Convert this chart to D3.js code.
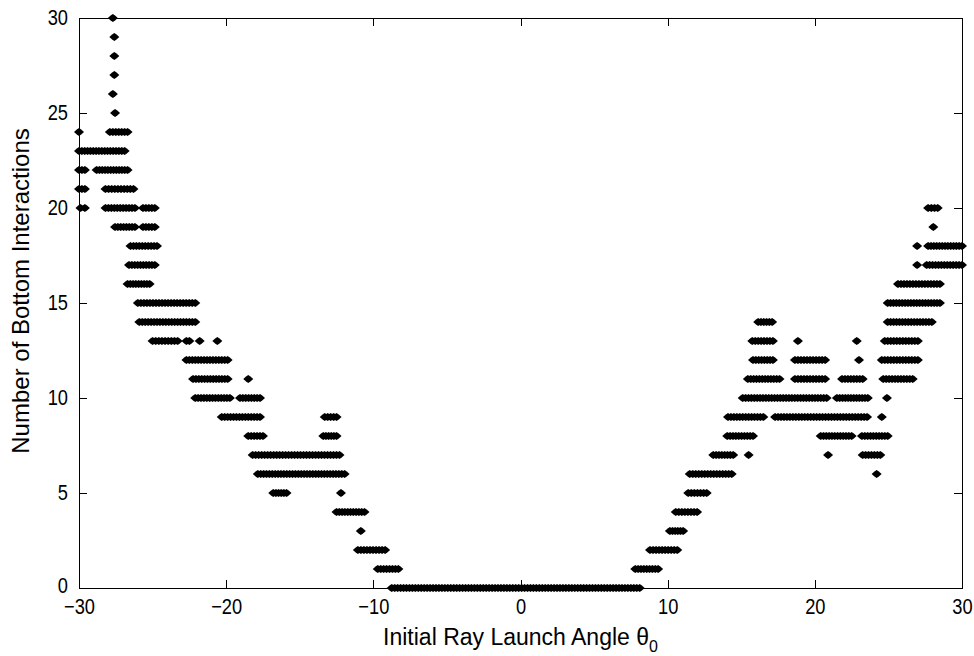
<!DOCTYPE html>
<html>
<head>
<meta charset="utf-8">
<script src="https://cdn.jsdelivr.net/npm/d3@7"></script>
<style>
  body { margin: 0; background: #fff; }
  svg { display: block; }
  text { font-family: "Liberation Sans", Arial, sans-serif; fill: #000; }
</style>
</head>
<body>
<div id="chart"></div>
<script>
// DATA
// launch angle ticks and interaction count ticks
const xTicks = [-30, -20, -10, 0, 10, 20, 30];
const yTicks = [0, 5, 10, 15, 20, 25, 30];

// runs of launch angles that share the same count: [count, fromAngle, toAngle]
// negative launch angles
const leftRuns = [
  [30, -27.7, -27.7], [29, -27.6, -27.6], [28, -27.6, -27.6], [27, -27.6, -27.6],
  [26, -27.7, -27.7], [25, -27.55, -27.55],
  [24, -30, -30], [24, -27.9, -26.7],
  [23, -30, -26.9],
  [22, -30, -29.6], [22, -28.8, -26.7],
  [21, -30, -29.6], [21, -28.2, -26.3],
  [20, -29.9, -29.6], [20, -28.2, -26.2], [20, -25.65, -24.85],
  [19, -27.55, -26.2], [19, -25.65, -24.85],
  [18, -26.5, -24.7],
  [17, -26.6, -24.85],
  [16, -26.7, -25.2],
  [15, -26.0, -22.1],
  [14, -25.9, -22.1],
  [13, -25.0, -23.3], [13, -22.7, -22.5], [13, -21.8, -21.8], [13, -20.6, -20.6],
  [12, -22.7, -19.9],
  [11, -22.25, -19.9], [11, -18.5, -18.5],
  [10, -22.1, -19.75], [10, -19.06, -17.7],
  [9, -20.3, -17.7], [9, -13.3, -12.5],
  [8, -18.5, -17.5], [8, -13.4, -12.5],
  [7, -18.2, -12.3],
  [6, -17.85, -11.95],
  [5, -16.8, -15.9], [5, -12.2, -12.2],
  [4, -12.5, -10.6],
  [3, -10.85, -10.85],
  [2, -11.05, -9.2],
  [1, -9.7, -8.3]
];
// angles that never touch the bottom
const centerRuns = [
  [0, -8.75, 8.1]
];
// positive launch angles
const rightRuns = [
  [1, 7.8, 9.35],
  [2, 8.8, 10.65],
  [3, 10.15, 11.05],
  [4, 10.55, 12.0],
  [5, 11.4, 12.65],
  [6, 11.5, 14.35], [6, 24.2, 24.2],
  [7, 13.1, 14.45], [7, 15.5, 15.5], [7, 20.9, 20.9], [7, 23.25, 24.45],
  [8, 14.05, 15.8], [8, 20.4, 22.5], [8, 23.2, 24.95],
  [9, 14.1, 16.5], [9, 17.3, 23.55], [9, 24.55, 24.55],
  [10, 15.1, 20.8], [10, 21.5, 23.6], [10, 24.9, 24.9],
  [11, 15.45, 17.6], [11, 18.65, 20.7], [11, 21.85, 23.25], [11, 24.65, 26.65],
  [12, 15.8, 17.15], [12, 18.65, 20.7], [12, 23.0, 23.0], [12, 24.55, 27.0],
  [13, 15.75, 17.15], [13, 18.85, 18.85], [13, 22.85, 22.85], [13, 24.75, 27.0],
  [14, 16.15, 17.1], [14, 24.95, 27.95],
  [15, 24.95, 28.5],
  [16, 25.65, 28.5],
  [17, 26.95, 26.95], [17, 27.6, 30],
  [18, 26.95, 26.95], [18, 27.7, 30],
  [19, 28.05, 28.05],
  [20, 27.7, 28.35]
];
const angleStep = 0.2; // spacing of launch angles inside a run

// CONSTANTS
const width = 974,
    height = 656,
    margin = { top: 18, right: 12, bottom: 68, left: 79 };

const points = [];
[...leftRuns, ...centerRuns, ...rightRuns].forEach(([count, from, to]) => {
    const n = Math.max(0, Math.round((to - from) / angleStep));
    for (let i = 0; i <= n; i++) {
        points.push({ angle: n === 0 ? from : from + (to - from) * i / n, count: count });
    }
});

const svg = d3.select("#chart")
    .append("svg")
    .attr("width", width)
    .attr("height", height);

// SCALES
const xScale = d3.scaleLinear()
    .domain([-30, 30])
    .range([margin.left, width - margin.right]);

const yScale = d3.scaleLinear()
    .domain([0, 30])
    .range([height - margin.bottom, margin.top]);

// AXES (ticks point inward on all four sides)
const tickLen = -8;
const narrow = 0.83;

const xAxis = d3.axisBottom(xScale).tickValues(xTicks).tickSizeInner(tickLen).tickSizeOuter(0).tickPadding(10);
const yAxis = d3.axisLeft(yScale).tickValues(yTicks).tickSizeInner(tickLen).tickSizeOuter(0).tickPadding(11);
const xTop = d3.axisTop(xScale).tickValues(xTicks).tickSizeInner(tickLen).tickSizeOuter(0).tickFormat("");
const yRight = d3.axisRight(yScale).tickValues(yTicks).tickSizeInner(tickLen).tickSizeOuter(0).tickFormat("");

function styleAxis(g) {
    g.attr("font-size", null).attr("font-family", null);
    g.selectAll("path, line").attr("stroke", "#000").attr("shape-rendering", "crispEdges");
}

svg.append("g")
    .attr("transform", `translate(0,${height - margin.bottom})`)
    .call(xAxis)
    .call(styleAxis)
    .call(g => g.selectAll("text")
        .style("font-size", "22px")
        .attr("dy", "0.74em")
        .attr("transform", `scale(${narrow},1)`));

svg.append("g")
    .attr("transform", `translate(${margin.left},0)`)
    .call(yAxis)
    .call(styleAxis)
    .call(g => g.selectAll("text")
        .style("font-size", "22px")
        .attr("x", -11 / narrow)
        .attr("dy", d => d === 0 ? "0.2em" : "0.3em")
        .attr("transform", `scale(${narrow},1)`));

svg.append("g")
    .attr("transform", `translate(0,${margin.top})`)
    .call(xTop)
    .call(styleAxis);

svg.append("g")
    .attr("transform", `translate(${width - margin.right},0)`)
    .call(yRight)
    .call(styleAxis);

// axis titles
svg.append("text")
    .attr("x", (xScale(-30) + xScale(30)) / 2)
    .attr("y", 645)
    .attr("text-anchor", "middle")
    .style("font-size", "23px")
    .text("Initial Ray Launch Angle θ")
    .append("tspan")
    .attr("dy", 7)
    .style("font-size", "16px")
    .text("0");

svg.append("text")
    .attr("transform", "translate(29,291) rotate(-90)")
    .attr("text-anchor", "middle")
    .style("font-size", "24px")
    .text("Number of Bottom Interactions");

// MARKERS
svg.append("g")
    .selectAll("path")
    .data(points)
    .join("path")
    .attr("d", "M-5,0L-2.2,-2.6L0,-4L2.2,-2.6L5,0L2.2,2.6L0,4L-2.2,2.6Z")
    .attr("transform", d => `translate(${xScale(d.angle)},${yScale(d.count)})`)
    .attr("fill", "#000");
</script>
</body>
</html>
